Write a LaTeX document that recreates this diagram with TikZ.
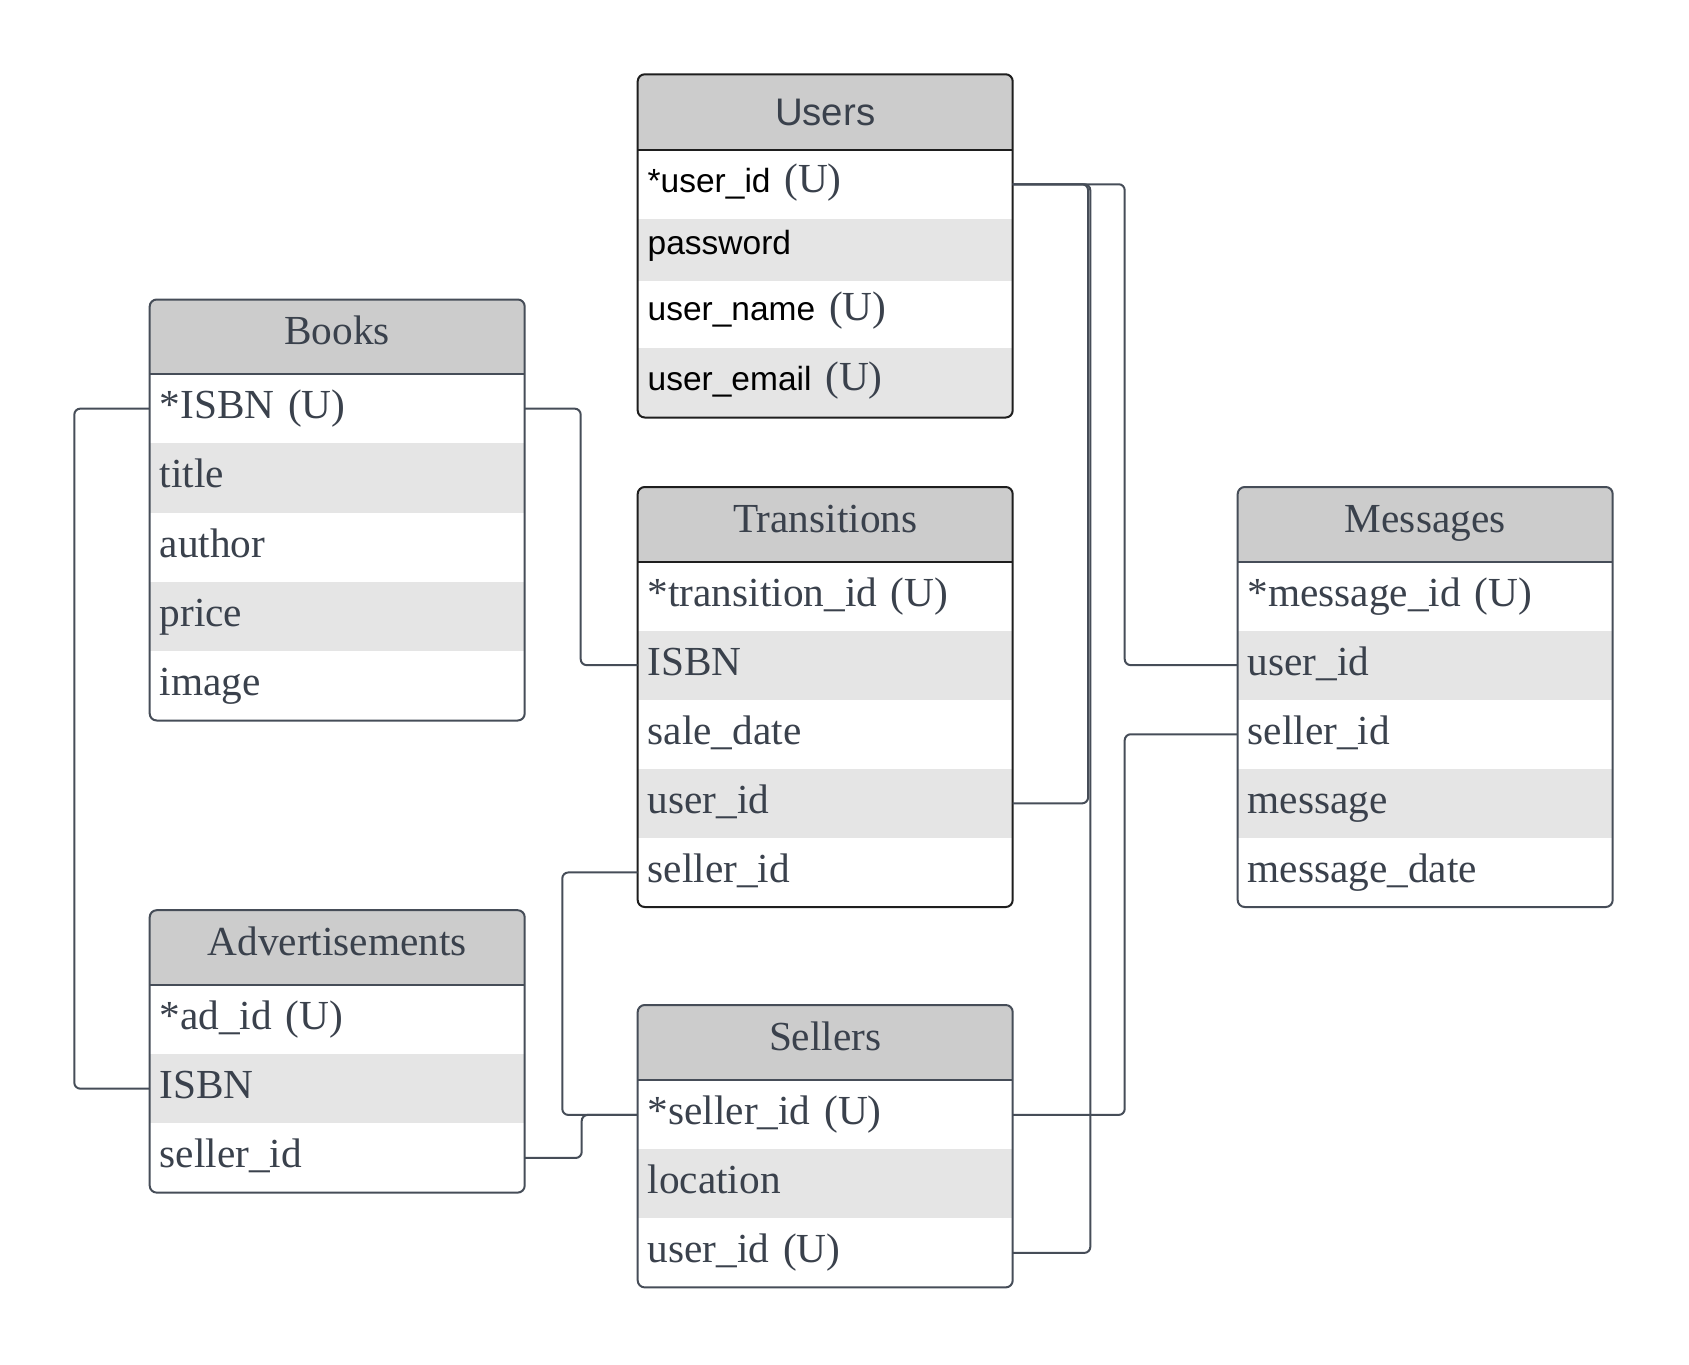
\documentclass[tikz,border=0pt]{standalone}
\usepackage{fontspec}
\setmainfont[WordSpace=0.8]{Liberation Serif}
\newfontfamily\sansface{Liberation Sans}

\definecolor{ink}{HTML}{3A414C}
\definecolor{wire}{HTML}{464D58}
\definecolor{frame}{HTML}{464D58}
\definecolor{darkframe}{HTML}{1E1E1E}
\definecolor{headfill}{HTML}{CCCCCC}
\definecolor{stripe}{HTML}{E5E5E5}

\newcommand{\sansfield}[1]{{\sansface\fontsize{33.5}{40}\selectfont\color{black}#1}}

\tikzset{
  cell/.style={anchor=north west, minimum width=375pt, inner xsep=10pt, inner ysep=0pt,
    text width=355pt, align=left, outer sep=0pt, text=ink,
    font=\fontsize{41.3}{48}\selectfont, text height=30pt, text depth=10pt,
    minimum height=69.3pt},
  plain/.style={cell, fill=white},
  shade/.style={cell, fill=stripe},
  headcell/.style={cell, fill=headfill, align=center, minimum height=74.5pt,
    text height=28pt, text depth=12pt},
  link/.style={draw=wire, line width=2pt, rounded corners=6pt},
  tableframe/.style={draw=frame, line width=2pt, rounded corners=7pt},
  headrule/.style={draw=frame, line width=2pt},
}

\begin{document}
\begin{tikzpicture}[x=1pt, y=-1pt]
\useasboundingbox[fill=white] (0,0) rectangle (1689,1365);

% ---------- Users ----------
\begin{scope}
  \clip[rounded corners=7pt] (637.7,74.3) rectangle ++(375,343.2);
  \node[headcell, minimum height=75.2pt, text height=33.5pt, text depth=6.5pt,
        font=\sansface\fontsize{38.4}{46}\selectfont] (users-head) at (637.7,74.3) {Users};
  \node[plain, minimum height=69.5pt, text height=27.75pt, text depth=12.25pt]
        (users-id) at (users-head.south west) {\sansfield{*user\_id} (U)};
  \node[shade, minimum height=62pt, text height=24pt, text depth=16pt]
        (users-pass) at (users-id.south west) {\sansfield{password}};
  \node[plain, minimum height=67pt, text height=25.5pt, text depth=14.5pt]
        (users-name) at (users-pass.south west) {\sansfield{user\_name} (U)};
  \node[shade, minimum height=69.5pt, text height=27.25pt, text depth=12.75pt]
        (users-mail) at (users-name.south west) {\sansfield{user\_email} (U)};
\end{scope}
\draw[headrule, draw=darkframe] (users-head.south west) -- (users-head.south east);
\draw[tableframe, draw=darkframe] (users-head.north west) rectangle (users-mail.south east);

% ---------- Books ----------
\begin{scope}
  \clip[rounded corners=7pt] (149.7,299.5) rectangle ++(375,421);
  \node[headcell] (books-head) at (149.7,299.5) {Books};
  \node[plain] (books-isbn) at (books-head.south west) {*ISBN (U)};
  \node[shade] (books-title) at (books-isbn.south west) {title};
  \node[plain] (books-author) at (books-title.south west) {author};
  \node[shade] (books-price) at (books-author.south west) {price};
  \node[plain] (books-image) at (books-price.south west) {image};
\end{scope}
\draw[headrule] (books-head.south west) -- (books-head.south east);
\draw[tableframe] (books-head.north west) rectangle (books-image.south east);

% ---------- Transitions ----------
\begin{scope}
  \clip[rounded corners=7pt] (637.7,487) rectangle ++(375,420);
  \node[headcell] (tr-head) at (637.7,487) {Transitions};
  \node[plain, minimum height=69.1pt] (tr-id) at (tr-head.south west) {*transition\_id (U)};
  \node[shade, minimum height=69.1pt] (tr-isbn) at (tr-id.south west) {ISBN};
  \node[plain, minimum height=69.1pt] (tr-date) at (tr-isbn.south west) {sale\_date};
  \node[shade, minimum height=69.1pt] (tr-user) at (tr-date.south west) {user\_id};
  \node[plain, minimum height=69.1pt] (tr-seller) at (tr-user.south west) {seller\_id};
\end{scope}
\draw[headrule, draw=darkframe] (tr-head.south west) -- (tr-head.south east);
\draw[tableframe, draw=darkframe] (tr-head.north west) rectangle (tr-seller.south east);

% ---------- Messages ----------
\begin{scope}
  \clip[rounded corners=7pt] (1237.7,487) rectangle ++(375,420);
  \node[headcell] (msg-head) at (1237.7,487) {Messages};
  \node[plain, minimum height=69.1pt] (msg-id) at (msg-head.south west) {*message\_id (U)};
  \node[shade, minimum height=69.1pt] (msg-user) at (msg-id.south west) {user\_id};
  \node[plain, minimum height=69.1pt] (msg-seller) at (msg-user.south west) {seller\_id};
  \node[shade, minimum height=69.1pt] (msg-text) at (msg-seller.south west) {message};
  \node[plain, minimum height=69.1pt] (msg-date) at (msg-text.south west) {message\_date};
\end{scope}
\draw[headrule] (msg-head.south west) -- (msg-head.south east);
\draw[tableframe] (msg-head.north west) rectangle (msg-date.south east);

% ---------- Advertisements ----------
\begin{scope}
  \clip[rounded corners=7pt] (149.7,910.2) rectangle ++(375,282.4);
  \node[headcell] (ads-head) at (149.7,910.2) {Advertisements};
  \node[plain] (ads-id) at (ads-head.south west) {*ad\_id (U)};
  \node[shade] (ads-isbn) at (ads-id.south west) {ISBN};
  \node[plain] (ads-seller) at (ads-isbn.south west) {seller\_id};
\end{scope}
\draw[headrule] (ads-head.south west) -- (ads-head.south east);
\draw[tableframe] (ads-head.north west) rectangle (ads-seller.south east);

% ---------- Sellers ----------
\begin{scope}
  \clip[rounded corners=7pt] (637.7,1005) rectangle ++(375,282.4);
  \node[headcell, minimum height=75.4pt] (sel-head) at (637.7,1005) {Sellers};
  \node[plain, minimum height=69pt] (sel-id) at (sel-head.south west) {*seller\_id (U)};
  \node[shade, minimum height=69pt] (sel-loc) at (sel-id.south west) {location};
  \node[plain, minimum height=69pt] (sel-user) at (sel-loc.south west) {user\_id (U)};
\end{scope}
\draw[headrule] (sel-head.south west) -- (sel-head.south east);
\draw[tableframe] (sel-head.north west) rectangle (sel-user.south east);

% ---------- Relationships ----------
\draw[link] (books-isbn.west) -- ++(-75.4,0) |- (ads-isbn.west);
\draw[link] (books-isbn.east) -- ++(56,0) |- (tr-isbn.west);
\draw[link] (users-id.east) -- ++(75.4,0) |- (tr-user.east);
\draw[link] (users-id.east) -- ++(77.6,0) |- (sel-user.east);
\draw[link] (users-id.east) -- ++(112,0) |- (msg-user.west);
\draw[link] (tr-seller.west) -- ++(-75.4,0) |- (sel-id.west);
\draw[link] (ads-seller.east) -- ++(57,0) |- (sel-id.west);
\draw[link] (sel-id.east) -- ++(112,0) |- (msg-seller.west);
\end{tikzpicture}
\end{document}
